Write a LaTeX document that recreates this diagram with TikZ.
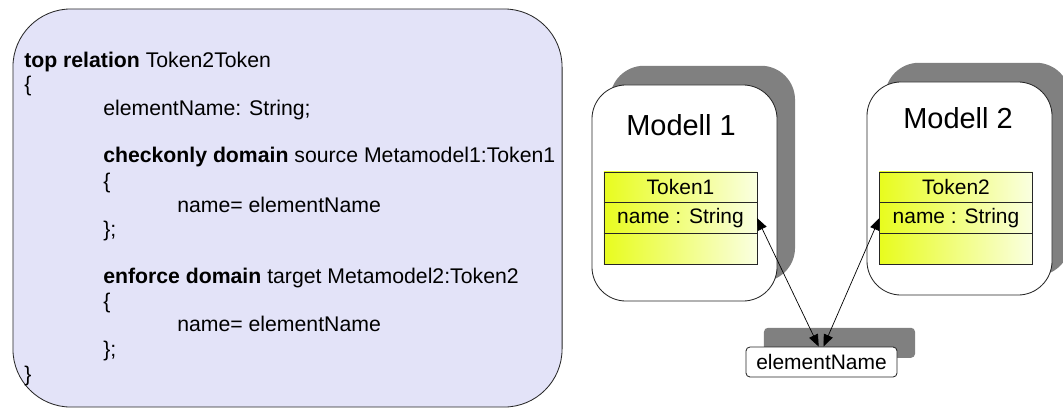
\documentclass[tikz,border=0pt]{standalone}
\usepackage{fontspec}
\setmainfont{Liberation Sans}
\usetikzlibrary{positioning,shadows,arrows.meta}

\definecolor{codebg}{RGB}{227,227,248}
\definecolor{clsyellow}{RGB}{232,252,30}
\definecolor{clslight}{RGB}{250,255,225}
\definecolor{shadowgray}{RGB}{128,128,128}

\tikzset{
  codeline/.style={anchor=base west, inner sep=0pt, font=\fontsize{15.1}{18}\selectfont},
  shade/.style={drop shadow={shadow xshift=0.45cm, shadow yshift=0.48cm, fill=shadowgray, opacity=1}},
  modelbox/.style={draw=black!85, line width=0.6pt, fill=white, rounded corners=0.85cm,
    minimum width=4.625cm, inner sep=0pt, shade},
  clsrow/.style={draw=black!85, line width=0.6pt, left color=clsyellow, right color=clslight,
    minimum width=3.825cm, minimum height=0.7675cm, inner sep=0pt, outer sep=0pt,
    font=\fontsize{14.9}{18}\selectfont},
  link/.style={line width=0.5pt, arrows={Triangle[length=3mm,width=2.4mm]-Triangle[length=3mm,width=2.4mm]}}
}

\begin{document}
\begin{tikzpicture}[x=0.025cm, y=-0.025cm]
    \useasboundingbox (0,0) rectangle (1063,408);

    % relation text
    \node[draw=black!85, line width=0.6pt, fill=codebg, rounded corners=1.45cm, inner sep=0pt,
      minimum width=13.725cm, minimum height=9.95cm] (code) at (287.5,208) {};
    \node[codeline] (relhead) at (24,67) {\textbf{top relation} Token2Token};
    \node[codeline] (relopen) at (24,91) {\{};
    \node[codeline] (relvar) at (103,115) {elementName: String;};
    \node[codeline] (srchead) at (103,162) {\textbf{checkonly domain} source Metamodel1:Token1};
    \node[codeline] (srcopen) at (103,188) {\{};
    \node[codeline] (srcbody) at (177,212) {name= elementName};
    \node[codeline] (srcclose) at (103,236) {\};};
    \node[codeline] (tgthead) at (103,283) {\textbf{enforce domain} target Metamodel2:Token2};
    \node[codeline] (tgtopen) at (103,308) {\{};
    \node[codeline] (tgtbody) at (177,331) {name= elementName};
    \node[codeline] (tgtclose) at (103,356) {\};};
    \node[codeline] (relclose) at (24,381) {\}};

    % models
    \node[modelbox, minimum height=5.4cm] (model1) at (684.5,193) {};
    \node[modelbox, minimum height=5.325cm] (model2) at (959.5,188.5) {};
    \node[font=\fontsize{20.6}{24}\selectfont] (title1) at (681,125) {Modell 1};
    \node[font=\fontsize{20.6}{24}\selectfont] (title2) at (958,118) {Modell 2};

    \node[clsrow] (tok1head) at (680.5,187.3) {Token1};
    \node[clsrow, below=0pt of tok1head] (tok1name) {name : String};
    \node[clsrow, below=0pt of tok1name] (tok1rest) {};

    \node[clsrow] (tok2head) at (956,187.3) {Token2};
    \node[clsrow, below=0pt of tok2head] (tok2name) {name : String};
    \node[clsrow, below=0pt of tok2name] (tok2rest) {};

    % variable
    \node[draw=black!85, line width=0.6pt, fill=white, rounded corners=0.1cm, inner sep=0pt,
      minimum width=3.775cm, minimum height=0.75cm, shade,
      font=\fontsize{14.9}{18}\selectfont] (elem) at (821.5,362) {elementName};

    \draw[link] (tok1name.east) -- ([xshift=-0.07cm]elem.north);
    \draw[link] (tok2name.west) -- ([xshift=0.05cm]elem.north);
\end{tikzpicture}
\end{document}
